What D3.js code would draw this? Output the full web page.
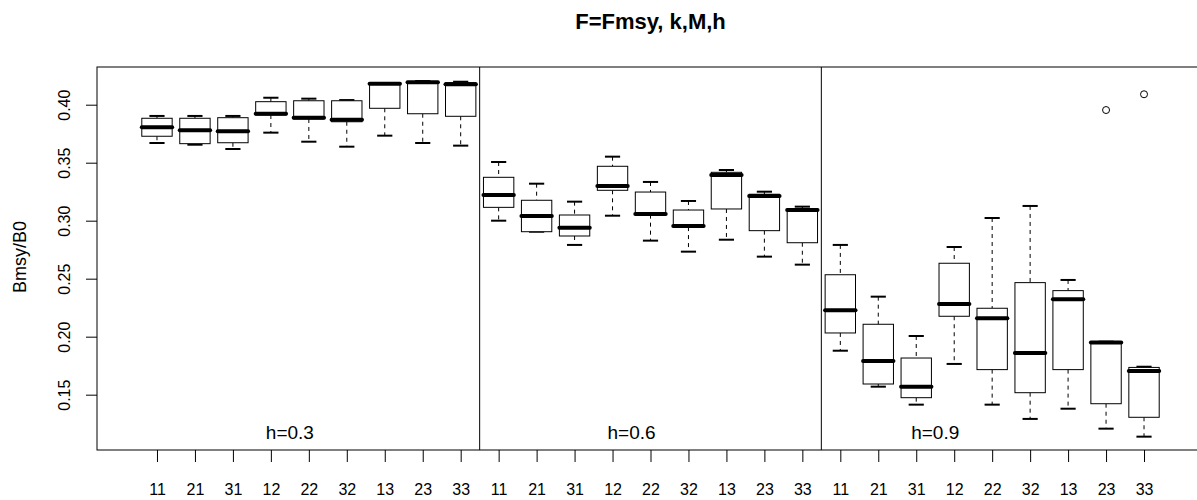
<!DOCTYPE html>
<html>
<head>
<meta charset="utf-8">
<script src="https://cdn.jsdelivr.net/npm/d3@7"></script>
<style>
  body { margin: 0; background: #fff; }
  svg { display: block; font-family: "Liberation Sans", Arial, sans-serif; }
</style>
</head>
<body>
<svg id="chart" width="1197" height="500"></svg>
<script>
// k,M combos repeated in each h panel
const categories = ['11', '21', '31', '12', '22', '32', '13', '23', '33'];
const panels = ['h=0.3', 'h=0.6', 'h=0.9'];
const panelLabelAt = [4.5, 13.5, 21.5];
const yTicks = [0.15, 0.20, 0.25, 0.30, 0.35, 0.40];

// box stats, 27 boxes (3 panels x 9 categories)
const whiskerLo = [
  0.367, 0.3655, 0.3618, 0.3759, 0.3681, 0.3638, 0.3733, 0.367, 0.3647,
  0.300, 0.2905, 0.2791, 0.3043, 0.2828, 0.2733, 0.2836, 0.269, 0.2621,
  0.1879, 0.1569, 0.1414, 0.1765, 0.1414, 0.1291, 0.1379, 0.1207, 0.1138
];
const boxLo = [
  0.3728, 0.3664, 0.3672, 0.3911, 0.3877, 0.3853, 0.3969, 0.3922, 0.390,
  0.3115, 0.2905, 0.2868, 0.3262, 0.3052, 0.2945, 0.3101, 0.2914, 0.281,
  0.2032, 0.1592, 0.1474, 0.2176, 0.1716, 0.1517, 0.1716, 0.1422, 0.1305
];
const medians = [
  0.3805, 0.3779, 0.377, 0.3922, 0.3888, 0.3871, 0.418, 0.4193, 0.4176,
  0.3222, 0.304, 0.294, 0.3299, 0.3058, 0.2954, 0.3394, 0.3213, 0.3092,
  0.2228, 0.1791, 0.1569, 0.2282, 0.2159, 0.186, 0.2322, 0.195, 0.1704
];
const boxHi = [
  0.3883, 0.3883, 0.3888, 0.4026, 0.4034, 0.4034, 0.4181, 0.420, 0.419,
  0.3374, 0.3176, 0.3049, 0.3469, 0.3247, 0.3092, 0.3417, 0.3228, 0.3101,
  0.2534, 0.2107, 0.1816, 0.2633, 0.2245, 0.2466, 0.2397, 0.1957, 0.1735
];
const whiskerHi = [
  0.3903, 0.3903, 0.3903, 0.406, 0.4052, 0.404, 0.4184, 0.4204, 0.4198,
  0.3506, 0.3319, 0.3164, 0.3552, 0.3334, 0.317, 0.3437, 0.325, 0.3121,
  0.2791, 0.2345, 0.2006, 0.2773, 0.3023, 0.3127, 0.2489, 0.1957, 0.1741
];
const outlierPos = [26, 27];
const outlierVal = [0.3954, 0.409];

const svg = d3.select('#chart');

const x = d3.scaleLinear().domain([-0.58, 28.58]).range([97, 1204]);
const y = d3.scaleLinear().domain([0.1023, 0.4325]).range([450, 67]);

const boxes = medians.map((m, i) => ({
  pos: i + 1,
  lo: whiskerLo[i], q1: boxLo[i], med: m, q3: boxHi[i], hi: whiskerHi[i]
}));

const step = x(2) - x(1);
const boxW = step * 0.8;
const capW = boxW * 0.5;

// title
svg.append('text')
  .attr('x', (x.range()[0] + x.range()[1]) / 2)
  .attr('y', 29)
  .attr('text-anchor', 'middle')
  .style('font-weight', 'bold')
  .style('font-size', '22px')
  .text('F=Fmsy, k,M,h');

// y axis
const yAxis = svg.append('g')
  .attr('transform', 'translate(97,0)')
  .call(d3.axisLeft(y).tickValues(yTicks).tickSize(11).tickFormat(d3.format('.2f')));
yAxis.select('.domain').remove();
yAxis.selectAll('line').attr('stroke', '#000');
yAxis.selectAll('text')
  .attr('x', null).attr('dy', null)
  .attr('transform', 'translate(-31,0) rotate(-90)')
  .attr('text-anchor', 'middle')
  .attr('dominant-baseline', 'middle')
  .style('font-size', '16px')
  .attr('font-family', null);

svg.append('text')
  .attr('transform', 'translate(26,257) rotate(-90)')
  .attr('text-anchor', 'middle')
  .style('font-size', '18px')
  .text('Bmsy/B0');

// x axis
const xAxis = svg.append('g')
  .attr('transform', 'translate(0,450)')
  .call(d3.axisBottom(x)
    .tickValues(d3.range(1, 28))
    .tickSize(12)
    .tickFormat(d => categories[(d - 1) % 9]));
xAxis.select('.domain').remove();
xAxis.selectAll('line').attr('stroke', '#000');
xAxis.selectAll('text')
  .attr('y', 45).attr('dy', null)
  .style('font-size', '16px')
  .attr('font-family', null);

// plot frame
svg.append('rect')
  .attr('x', x.range()[0]).attr('y', y.range()[1])
  .attr('width', x.range()[1] - x.range()[0])
  .attr('height', y.range()[0] - y.range()[1])
  .attr('fill', 'none').attr('stroke', '#000').attr('stroke-width', 1);

// panel separators
svg.append('g').selectAll('line')
  .data([9.5, 18.5])
  .join('line')
  .attr('x1', d => x(d)).attr('x2', d => x(d))
  .attr('y1', y.range()[1]).attr('y2', y.range()[0])
  .attr('stroke', '#000');

// panel labels
svg.append('g').selectAll('text')
  .data(panels)
  .join('text')
  .attr('x', (d, i) => x(panelLabelAt[i]))
  .attr('y', 439)
  .attr('text-anchor', 'middle')
  .style('font-size', '19px')
  .text(d => d);

// boxes
const g = svg.append('g').selectAll('g')
  .data(boxes)
  .join('g');

g.append('line')
  .attr('x1', d => x(d.pos)).attr('x2', d => x(d.pos))
  .attr('y1', d => y(d.hi)).attr('y2', d => y(d.q3))
  .attr('stroke', '#000').attr('stroke-dasharray', '4,4');
g.append('line')
  .attr('x1', d => x(d.pos)).attr('x2', d => x(d.pos))
  .attr('y1', d => y(d.q1)).attr('y2', d => y(d.lo))
  .attr('stroke', '#000').attr('stroke-dasharray', '4,4');

g.selectAll('.cap')
  .data(d => [{ pos: d.pos, v: d.lo }, { pos: d.pos, v: d.hi }])
  .join('line')
  .attr('class', 'cap')
  .attr('x1', d => x(d.pos) - capW / 2).attr('x2', d => x(d.pos) + capW / 2)
  .attr('y1', d => y(d.v)).attr('y2', d => y(d.v))
  .attr('stroke', '#000').attr('stroke-width', 2);

g.append('rect')
  .attr('x', d => x(d.pos) - boxW / 2)
  .attr('y', d => y(d.q3))
  .attr('width', boxW)
  .attr('height', d => y(d.q1) - y(d.q3))
  .attr('fill', '#fff').attr('stroke', '#000').attr('stroke-width', 1);

g.append('line')
  .attr('x1', d => x(d.pos) - boxW / 2).attr('x2', d => x(d.pos) + boxW / 2)
  .attr('y1', d => y(d.med)).attr('y2', d => y(d.med))
  .attr('stroke', '#000').attr('stroke-width', 4).attr('stroke-linecap', 'round');

// outliers
svg.append('g').selectAll('circle')
  .data(outlierVal)
  .join('circle')
  .attr('cx', (d, i) => x(outlierPos[i]))
  .attr('cy', d => y(d))
  .attr('r', 3.5)
  .attr('fill', 'none').attr('stroke', '#000');
</script>
</body>
</html>
